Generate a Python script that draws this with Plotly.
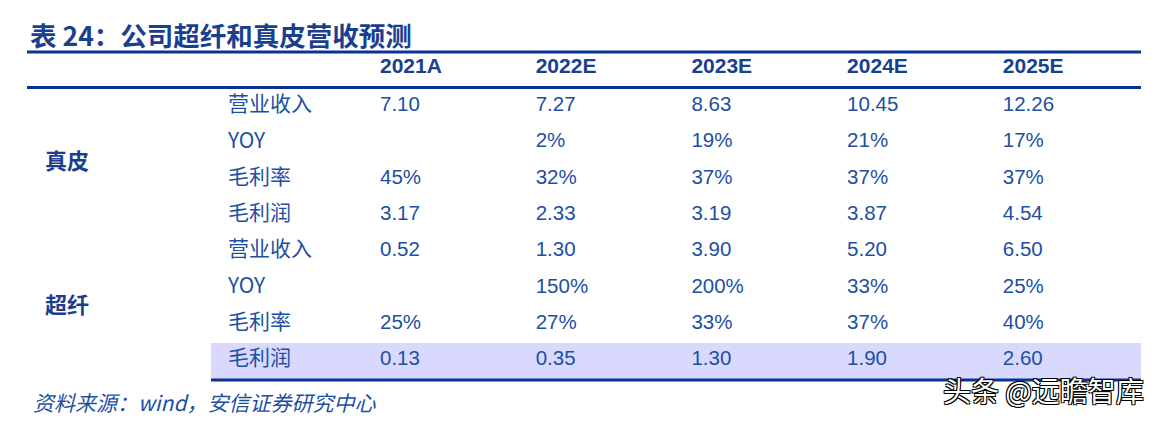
import plotly.graph_objects as go

# ---------------- data ----------------
title_text = "表 24：公司超纤和真皮营收预测"
years = ["2021A", "2022E", "2023E", "2024E", "2025E"]
groups = ["真皮", "超纤"]
metrics = ["营业收入", "YOY", "毛利率", "毛利润"]

leather_revenue = [7.10, 7.27, 8.63, 10.45, 12.26]
leather_yoy = [None, 2, 19, 21, 17]
leather_margin = [45, 32, 37, 37, 37]
leather_profit = [3.17, 2.33, 3.19, 3.87, 4.54]

micro_revenue = [0.52, 1.30, 3.90, 5.20, 6.50]
micro_yoy = [None, 150, 200, 33, 25]
micro_margin = [25, 27, 33, 37, 40]
micro_profit = [0.13, 0.35, 1.30, 1.90, 2.60]

source_text = "资料来源：wind，安信证券研究中心"
watermark_text = "头条 @远瞻智库"

# ---------------- style / layout ----------------
W, H = 1161, 422
PAGE_MARGIN = 8  # default browser body margin
NAVY = "#0a3291"
TITLE_C = "#1b3f8f"
VAL_C = "#1d4fa3"
HILITE = "#d9d9ff"
CJK = "Noto Sans CJK SC"
LAT = "Liberation Sans, Arial"

col_x0, col_step = 380, 155.7
row_y0, row_step = 106, 36.3
label_x = 228
group_x = 45
header_y = 68


def fmt_num(v):
    return "" if v is None else f"{v:.2f}"


def fmt_pct(v):
    return "" if v is None else f"{v:.0f}%"


rows = [
    (metrics[0], [fmt_num(v) for v in leather_revenue]),
    (metrics[1], [fmt_pct(v) for v in leather_yoy]),
    (metrics[2], [fmt_pct(v) for v in leather_margin]),
    (metrics[3], [fmt_num(v) for v in leather_profit]),
    (metrics[0], [fmt_num(v) for v in micro_revenue]),
    (metrics[1], [fmt_pct(v) for v in micro_yoy]),
    (metrics[2], [fmt_pct(v) for v in micro_margin]),
    (metrics[3], [fmt_num(v) for v in micro_profit]),
]

row_y = [row_y0 + j * row_step for j in range(len(rows))]
col_x = [col_x0 + i * col_step for i in range(len(years))]

fig = go.Figure()

# header
fig.add_trace(go.Scatter(
    x=col_x, y=[header_y] * len(years), text=years, mode="text",
    textposition="middle right",
    textfont=dict(family=LAT, size=21, color=TITLE_C, weight="bold"),
    hoverinfo="skip", showlegend=False))

# values
vx, vy, vt = [], [], []
for j, (_, vals) in enumerate(rows):
    for i, t in enumerate(vals):
        vx.append(col_x[i]); vy.append(row_y[j]); vt.append(t)
fig.add_trace(go.Scatter(
    x=vx, y=vy, text=vt, mode="text", textposition="middle right",
    textfont=dict(family=LAT, size=20.5, color=VAL_C),
    hoverinfo="skip", showlegend=False))

# row labels
fig.add_trace(go.Scatter(
    x=[label_x] * len(rows), y=row_y, text=[r[0] for r in rows], mode="text",
    textposition="middle right",
    textfont=dict(family=CJK + ", " + LAT, size=21, color=VAL_C),
    hoverinfo="skip", showlegend=False))

# group labels
gy = [(row_y[0] + row_y[3]) / 2 + 3, (row_y[4] + row_y[7]) / 2 + 1.5]
fig.add_trace(go.Scatter(
    x=[group_x] * 2, y=gy, text=groups, mode="text",
    textposition="middle right",
    textfont=dict(family=CJK, size=22, color=TITLE_C, weight="bold"),
    hoverinfo="skip", showlegend=False))

shapes = [
    dict(type="rect", x0=211, x1=1141, y0=row_y[7] - 17,
         y1=row_y[7] + 19, fillcolor=HILITE, line_width=0,
         layer="below"),
    dict(type="line", x0=27, x1=1141, y0=52, y1=52, line=dict(color=NAVY, width=3)),
    dict(type="line", x0=27, x1=1141, y0=87.5, y1=87.5, line=dict(color=NAVY, width=3)),
    dict(type="line", x0=211, x1=1141, y0=380, y1=380, line=dict(color=NAVY, width=3)),
]

annotations = [
    dict(x=28, y=34, xref="x", yref="y", text=title_text, showarrow=False,
         xanchor="left", yanchor="middle",
         font=dict(family=CJK, size=26.5, color=TITLE_C, weight="bold")),
    dict(x=31, y=402, xref="x", yref="y", text=source_text, showarrow=False,
         xanchor="left", yanchor="middle",
         font=dict(family=CJK, size=21, color=VAL_C, style="italic")),
    dict(x=1146, y=390, xref="x", yref="y", text=watermark_text, showarrow=False,
         xanchor="right", yanchor="middle",
         font=dict(family=CJK, size=28, color="white",
                   shadow="1px 1px 0 #000, -1px -1px 0 #000, 1px -1px 0 #000, -1px 1px 0 #000")),
]

fig.update_layout(
    width=W - PAGE_MARGIN, height=H - PAGE_MARGIN,
    margin=dict(l=0, r=0, t=0, b=0),
    paper_bgcolor="white", plot_bgcolor="white",
    xaxis=dict(range=[PAGE_MARGIN, W], visible=False, fixedrange=True),
    yaxis=dict(range=[H, PAGE_MARGIN], visible=False, fixedrange=True),
    shapes=shapes, annotations=annotations,
)

fig.write_html("out.html")
